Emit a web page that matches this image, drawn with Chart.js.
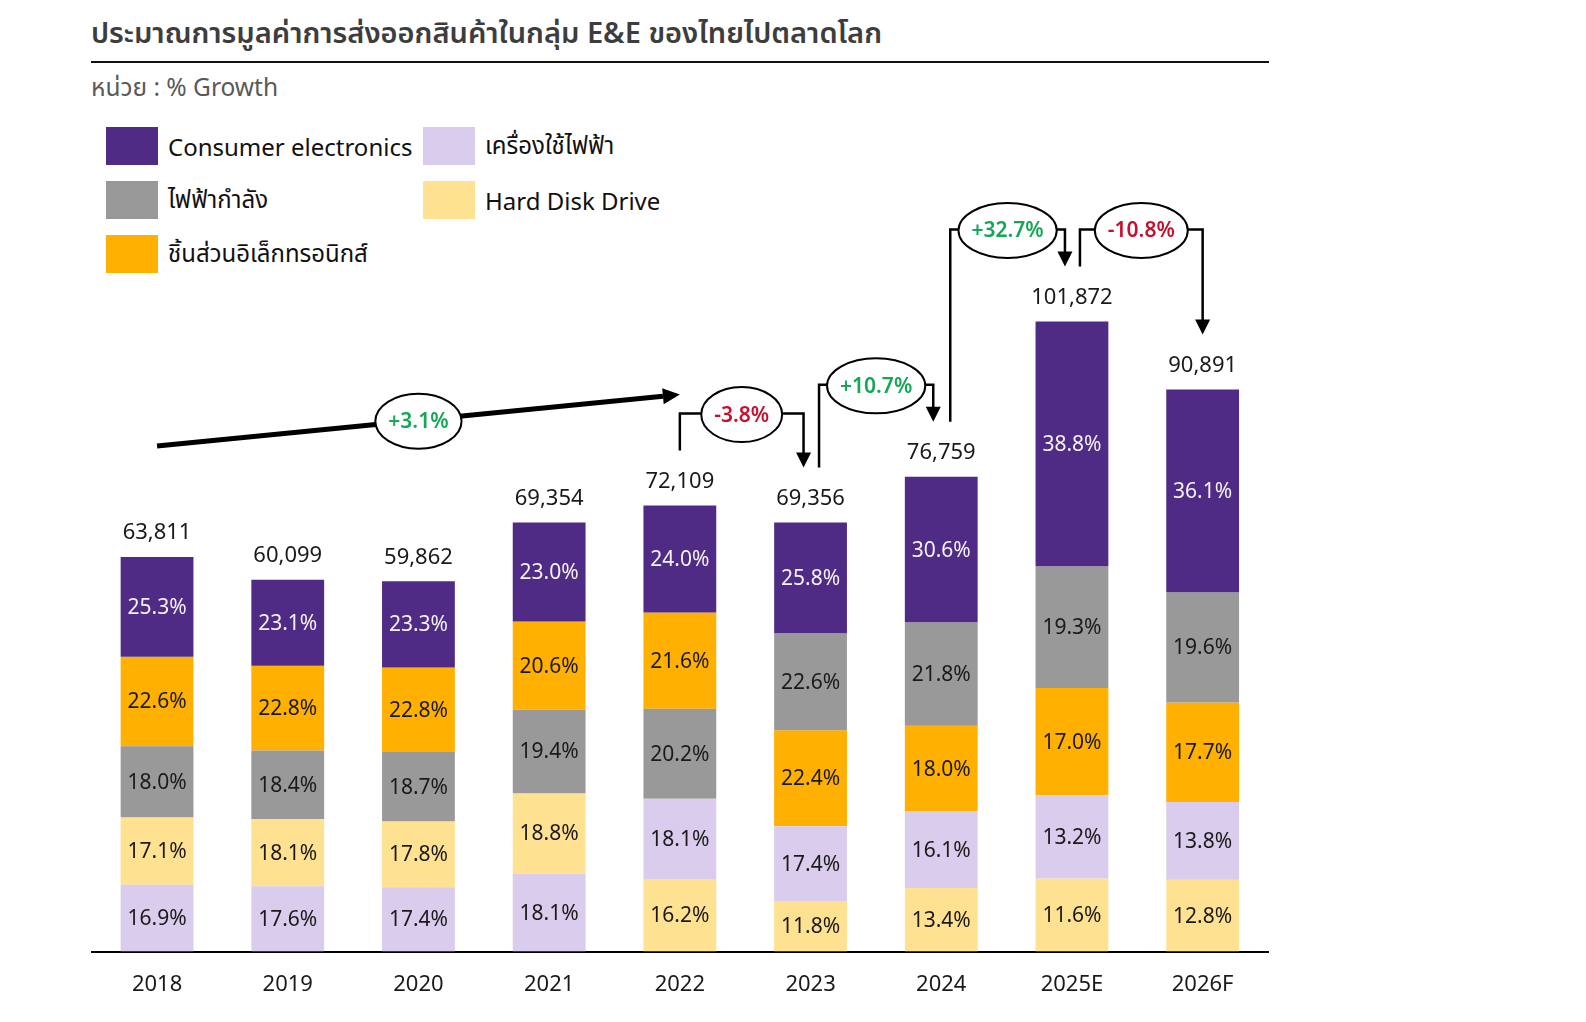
<!DOCTYPE html>
<html>
<head>
<meta charset="utf-8">
<script src="https://cdn.jsdelivr.net/npm/chart.js@4.4.1/dist/chart.umd.min.js"></script>
<style>
  html, body { margin: 0; padding: 0; background: #ffffff; }
  body { width: 1586px; height: 1022px; position: relative; overflow: hidden;
         font-family: 'Noto Sans', 'Noto Sans Thai', 'Noto Sans Thai UI', 'Loma', 'Garuda', 'Tlwg Typo', sans-serif; }
  #c { position: absolute; left: 0; top: 0; }
  .title { position: absolute; left: 91px; top: 12px; height: 40px; line-height: 40px;
           font-size: 29px; font-weight: 600; color: #3d3d3d; white-space: nowrap; }
  .rule { position: absolute; left: 91px; top: 61px; width: 1178px; height: 2px; background: #111; }
  .unit { position: absolute; left: 91px; top: 71px; height: 32px; line-height: 32px;
          font-size: 24.5px; color: #595959; white-space: nowrap; }
  .lg { position: absolute; height: 38px; display: flex; align-items: center; white-space: nowrap; }
  .lg .box { width: 52px; height: 38px; display: inline-block; }
  .lg .txt { margin-left: 10px; font-size: 24px; color: #111; }
</style>
</head>
<body>
<div class="title">ประมาณการมูลค่าการส่งออกสินค้าในกลุ่ม E&amp;E ของไทยไปตลาดโลก</div>
<div class="rule"></div>
<div class="unit">หน่วย : % Growth</div>
<div id="legend"></div>
<canvas id="c" width="1586" height="1022"></canvas>
<script>
// ---------------- DATA ----------------
const categories = ['2018', '2019', '2020', '2021', '2022', '2023', '2024', '2025E', '2026F'];
const totals = [63811, 60099, 59862, 69354, 72109, 69356, 76759, 101872, 90891];

const seriesNames = ['Consumer electronics', 'เครื่องใช้ไฟฟ้า', 'ไฟฟ้ากำลัง', 'Hard Disk Drive', 'ชิ้นส่วนอิเล็กทรอนิกส์'];
const consumerElectronics = [25.3, 23.1, 23.3, 23.0, 24.0, 25.8, 30.6, 38.8, 36.1];
const homeAppliances      = [16.9, 17.6, 17.4, 18.1, 18.1, 17.4, 16.1, 13.2, 13.8];
const powerElectrical     = [18.0, 18.4, 18.7, 19.4, 20.2, 22.6, 21.8, 19.3, 19.6];
const hardDiskDrive       = [17.1, 18.1, 17.8, 18.8, 16.2, 11.8, 13.4, 11.6, 12.8];
const electronicParts     = [22.6, 22.8, 22.8, 20.6, 21.6, 22.4, 18.0, 17.0, 17.7];

const growthFrom   = [0, 4, 5, 6, 7];
const growthTo     = [4, 5, 6, 7, 8];
const growthLabels = ['+3.1%', '-3.8%', '+10.7%', '+32.7%', '-10.8%'];

// ---------------- STYLE ----------------
const seriesColors = ['#502B85', '#D9CCEC', '#999999', '#FFE192', '#FFB000'];
const labelColors  = ['#F2F2F2', '#1a1a1a', '#1a1a1a', '#1a1a1a', '#1a1a1a'];
const legendSlots  = [[106, 127], [423, 127], [106, 181], [423, 181], [106, 235]];
const bracketOffsets = [null, [0, -7], [8.5, -8], [9, -7], [8, 0]];
const FONT = "'Noto Sans', 'Noto Sans Thai', 'Loma', 'Garuda', sans-serif";

// ---------------- LEGEND (HTML) ----------------
const legendEl = document.getElementById('legend');
seriesNames.forEach((name, s) => {
  const d = document.createElement('div');
  d.className = 'lg';
  d.style.left = legendSlots[s][0] + 'px';
  d.style.top = legendSlots[s][1] + 'px';
  const b = document.createElement('span');
  b.className = 'box';
  b.style.background = seriesColors[s];
  const t = document.createElement('span');
  t.className = 'txt';
  t.textContent = name;
  d.appendChild(b); d.appendChild(t);
  legendEl.appendChild(d);
});

// ---------------- BUILD FLOATING STACKS (sorted ascending within each bar) ----------------
const shares = [consumerElectronics, homeAppliances, powerElectrical, hardDiskDrive, electronicParts];
const ranges = shares.map(() => []);
categories.forEach((_, i) => {
  const sum = shares.reduce((a, arr) => a + arr[i], 0);
  const order = shares.map((arr, s) => s).sort((a, b) => shares[a][i] - shares[b][i]);
  let base = 0;
  order.forEach(s => {
    const v = totals[i] * shares[s][i] / sum;
    ranges[s][i] = [base, base + v];
    base += v;
  });
});

const datasets = seriesNames.map((name, s) => ({
  label: name,
  data: ranges[s],
  backgroundColor: seriesColors[s],
  borderWidth: 0,
  grouped: false,
  categoryPercentage: 1,
  barPercentage: 0.557
}));

// ---------------- PLUGINS ----------------
const labelPlugin = {
  id: 'segLabels',
  afterDatasetsDraw(chart) {
    const c = chart.ctx;
    const ys = chart.scales.y, xs = chart.scales.x;
    c.save();
    c.textAlign = 'center';
    c.textBaseline = 'middle';
    c.font = "21px " + FONT;
    chart.data.datasets.forEach((ds, s) => {
      const meta = chart.getDatasetMeta(s);
      meta.data.forEach((el, i) => {
        c.fillStyle = labelColors[s];
        c.fillText(shares[s][i].toFixed(1) + '%', el.x, (el.y + el.base) / 2 + 1);
      });
    });
    c.font = "22px " + FONT;
    c.fillStyle = '#1a1a1a';
    totals.forEach((t, i) => {
      c.fillText(t.toLocaleString('en-US'), xs.getPixelForValue(i), ys.getPixelForValue(t) - 24);
    });
    c.restore();
  }
};

function drawBadge(c, cx, cy, text) {
  c.font = "600 21px " + FONT;
  const w = c.measureText(text).width;
  const rx = w / 2 + 13, ry = 27.5;
  c.beginPath();
  c.ellipse(cx, cy, rx, ry, 0, 0, Math.PI * 2);
  c.fillStyle = '#ffffff';
  c.fill();
  c.lineWidth = 2;
  c.strokeStyle = '#000';
  c.stroke();
  c.fillStyle = text.startsWith('-') ? '#C8102E' : '#12A854';
  c.textAlign = 'center';
  c.textBaseline = 'middle';
  c.fillText(text, cx, cy + 1);
}

const growthPlugin = {
  id: 'growth',
  afterDraw(chart) {
    const c = chart.ctx;
    const xs = chart.scales.x, ys = chart.scales.y;
    const top = i => ys.getPixelForValue(totals[i]);
    c.save();
    growthLabels.forEach((lab, k) => {
      const a = growthFrom[k], b = growthTo[k];
      if (b - a > 1) {
        const x1 = xs.getPixelForValue(a), y1 = top(a) - 111;
        const x2 = xs.getPixelForValue(b), y2 = top(b) - 111;
        const ang = Math.atan2(y2 - y1, x2 - x1);
        const hl = 17, hw = 8;
        const bx = x2 - hl * Math.cos(ang), by = y2 - hl * Math.sin(ang);
        c.beginPath();
        c.moveTo(x1, y1); c.lineTo(bx, by);
        c.lineWidth = 5; c.strokeStyle = '#000'; c.lineCap = 'butt';
        c.stroke();
        c.beginPath();
        c.moveTo(x2, y2);
        c.lineTo(bx + hw * Math.sin(ang), by - hw * Math.cos(ang));
        c.lineTo(bx - hw * Math.sin(ang), by + hw * Math.cos(ang));
        c.closePath();
        c.fillStyle = '#000'; c.fill();
        drawBadge(c, (x1 + x2) / 2, (y1 + y2) / 2 + 1, lab);
      } else {
        const off = bracketOffsets[k] || [8, -8];
        const x1 = xs.getPixelForValue(a) + off[0];
        const x2 = xs.getPixelForValue(b) + off[1];
        const y1 = top(a) - 55;
        const tip = top(b) - 55;
        const yh = Math.min(top(a), top(b)) - 92;
        const hl = 15, hw = 7.5;
        c.beginPath();
        c.moveTo(x1, y1); c.lineTo(x1, yh); c.lineTo(x2, yh); c.lineTo(x2, tip - hl + 1);
        c.lineWidth = 2.5; c.strokeStyle = '#000'; c.lineJoin = 'miter';
        c.stroke();
        c.beginPath();
        c.moveTo(x2, tip); c.lineTo(x2 - hw, tip - hl); c.lineTo(x2 + hw, tip - hl);
        c.closePath();
        c.fillStyle = '#000'; c.fill();
        drawBadge(c, (x1 + x2) / 2, yh + 1, lab);
      }
    });
    c.restore();
  }
};

// ---------------- CHART ----------------
new Chart(document.getElementById('c'), {
  type: 'bar',
  data: { labels: categories, datasets: datasets },
  options: {
    responsive: false,
    animation: false,
    devicePixelRatio: 1,
    layout: { padding: { left: 91.7, right: 318, top: 147.5, bottom: 4 } },
    scales: {
      x: {
        grid: { display: false, drawTicks: false },
        border: { display: true, color: '#000', width: 2 },
        ticks: { font: { family: FONT, size: 22 }, color: '#1a1a1a', padding: 20 }
      },
      y: { display: false, min: 0, max: 130000 }
    },
    plugins: { legend: { display: false }, tooltip: { enabled: false } }
  },
  plugins: [labelPlugin, growthPlugin]
});
</script>
</body>
</html>
